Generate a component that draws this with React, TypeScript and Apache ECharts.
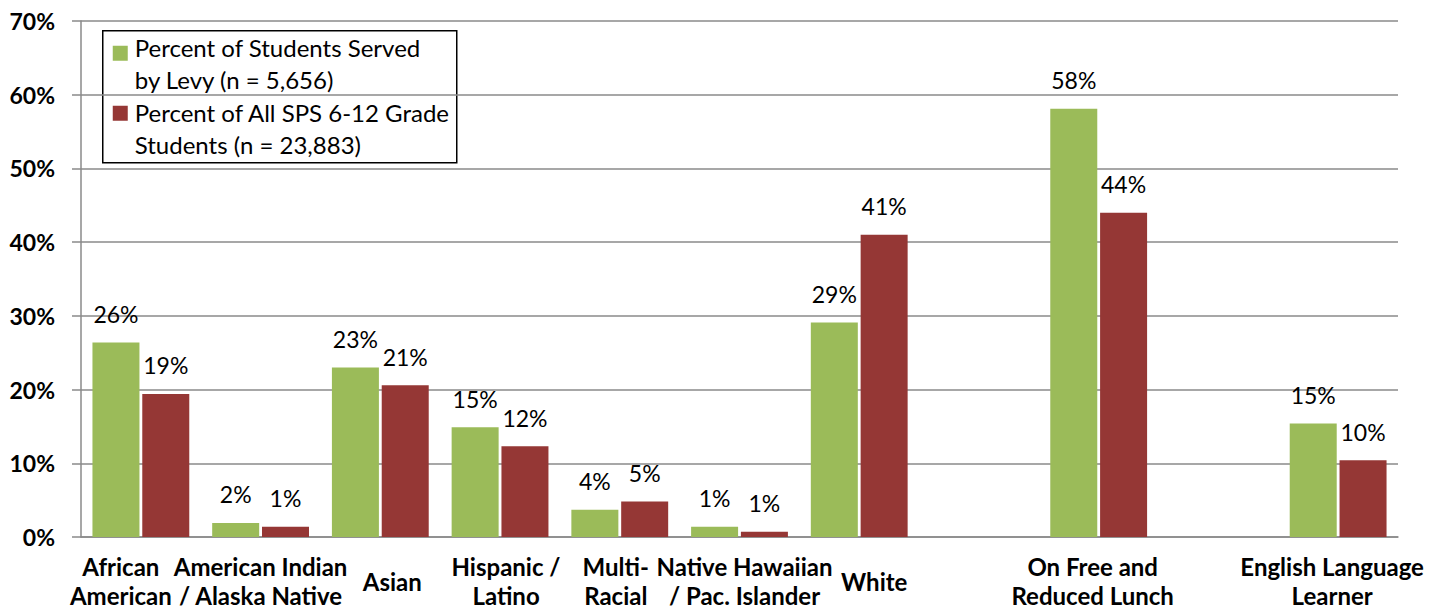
import React, { useEffect, useRef } from "react";
import * as echarts from "echarts";

const categories = [
  "African\nAmerican",
  "American Indian\n/ Alaska Native",
  "Asian",
  "Hispanic /\nLatino",
  "Multi-\nRacial",
  "Native Hawaiian\n/ Pac. Islander",
  "White",
  "",
  "On Free and\nReduced Lunch",
  "",
  "English Language\nLearner",
];

// horizontal shift of each category label (px), as placed in the original
const labelShift = [-20, 0, 12, 6, -4, 5, 15, 0, -6, 0, -6];

const seriesNames = [
  "Percent of Students Served\nby Levy (n = 5,656)",
  "Percent of All SPS 6-12 Grade\nStudents (n = 23,883)",
];

const levyServed = [26.4, 1.9, 23.0, 14.9, 3.7, 1.4, 29.1, null, 58.1, null, 15.4];
const allSps = [19.4, 1.4, 20.6, 12.3, 4.8, 0.7, 41.0, null, 44.0, null, 10.4];

const yMin = 0;
const yMax = 70;
const yStep = 10;

const colors = ["#9BBB59", "#953735"];
const FONT = "Lato";

export default function App() {
  const ref = useRef<HTMLDivElement>(null);

  useEffect(() => {
    if (!ref.current) return;
    const chart = echarts.init(ref.current, null, { renderer: "svg" });
    const gridColor = "#8a8a8a";
    const labelCfg = {
      show: true,
      position: "top",
      distance: 17,
      color: "#000",
      fontFamily: FONT,
      fontSize: 23,
      formatter: (p: any) => `${Math.round(p.value)}%`,
    };
    const rich: Record<string, any> = {};
    labelShift.forEach((s, i) => {
      const pad = Math.abs(s) * 2;
      rich["s" + i] = {
        fontFamily: FONT,
        fontWeight: "bold",
        fontSize: 24,
        lineHeight: 29,
        color: "#000",
        padding: s < 0 ? [0, pad, 0, 0] : [0, 0, 0, pad],
      };
    });
    chart.setOption({
      animation: false,
      backgroundColor: "#fff",
      textStyle: { fontFamily: FONT },
      grid: { left: 81, right: 46, top: 21, bottom: 73, outerBoundsMode: "none", containLabel: false },
      xAxis: {
        type: "category",
        data: categories,
        axisLine: { show: true, lineStyle: { color: gridColor, width: 1.5 } },
        axisTick: { show: false },
        axisLabel: {
          interval: 0,
          hideOverlap: false,
          color: "#000",
          fontFamily: FONT,
          fontWeight: "bold",
          fontSize: 24,
          lineHeight: 29,
          margin: 44,
          verticalAlign: "middle",
          align: "center",
          rich,
          formatter: (value: string, index: number) =>
            value
              ? value
                  .split("\n")
                  .map((l) => `{s${index}|${l}}`)
                  .join("\n")
              : "",
        },
      },
      yAxis: {
        type: "value",
        min: yMin,
        max: yMax,
        interval: yStep,
        axisLine: { show: true, lineStyle: { color: gridColor, width: 1.5 } },
        axisTick: { show: true, length: 9, lineStyle: { color: gridColor, width: 1.5 } },
        splitLine: { show: true, lineStyle: { color: gridColor, width: 1.5 } },
        axisLabel: {
          color: "#000",
          fontFamily: FONT,
          fontWeight: "bold",
          fontSize: 23,
          margin: 26,
          formatter: "{value}%",
        },
      },
      series: [
        {
          name: seriesNames[0],
          type: "bar",
          data: levyServed,
          barWidth: 47,
          barGap: "6%",
          itemStyle: { color: colors[0] },
          label: labelCfg,
        },
        {
          name: seriesNames[1],
          type: "bar",
          data: allSps,
          barWidth: 47,
          barGap: "6%",
          itemStyle: { color: colors[1] },
          label: labelCfg,
        },
      ],
      graphic: [
        {
          type: "group",
          left: 102,
          top: 30,
          children: [
            {
              type: "rect",
              shape: { x: 0, y: 0, width: 354, height: 132 },
              style: { fill: "#fff", stroke: "#000", lineWidth: 1.5 },
            },
            {
              type: "rect",
              shape: { x: 10, y: 15, width: 15, height: 15 },
              style: { fill: colors[0] },
            },
            {
              type: "rect",
              shape: { x: 10, y: 75, width: 15, height: 15 },
              style: { fill: colors[1] },
            },
            {
              type: "text",
              x: 32,
              y: 1,
              style: {
                text: seriesNames[0],
                fontFamily: FONT,
                fontSize: 24,
                lineHeight: 32,
                fill: "#000",
                verticalAlign: "top",
              },
            },
            {
              type: "text",
              x: 32,
              y: 66,
              style: {
                text: seriesNames[1],
                fontFamily: FONT,
                fontSize: 24,
                lineHeight: 32,
                fill: "#000",
                verticalAlign: "top",
              },
            },
          ],
        },
      ],
    });
    return () => chart.dispose();
  }, []);

  return (
    <div
      ref={ref}
      style={{ position: "absolute", left: 0, top: 0, width: 1444, height: 610 }}
    />
  );
}
